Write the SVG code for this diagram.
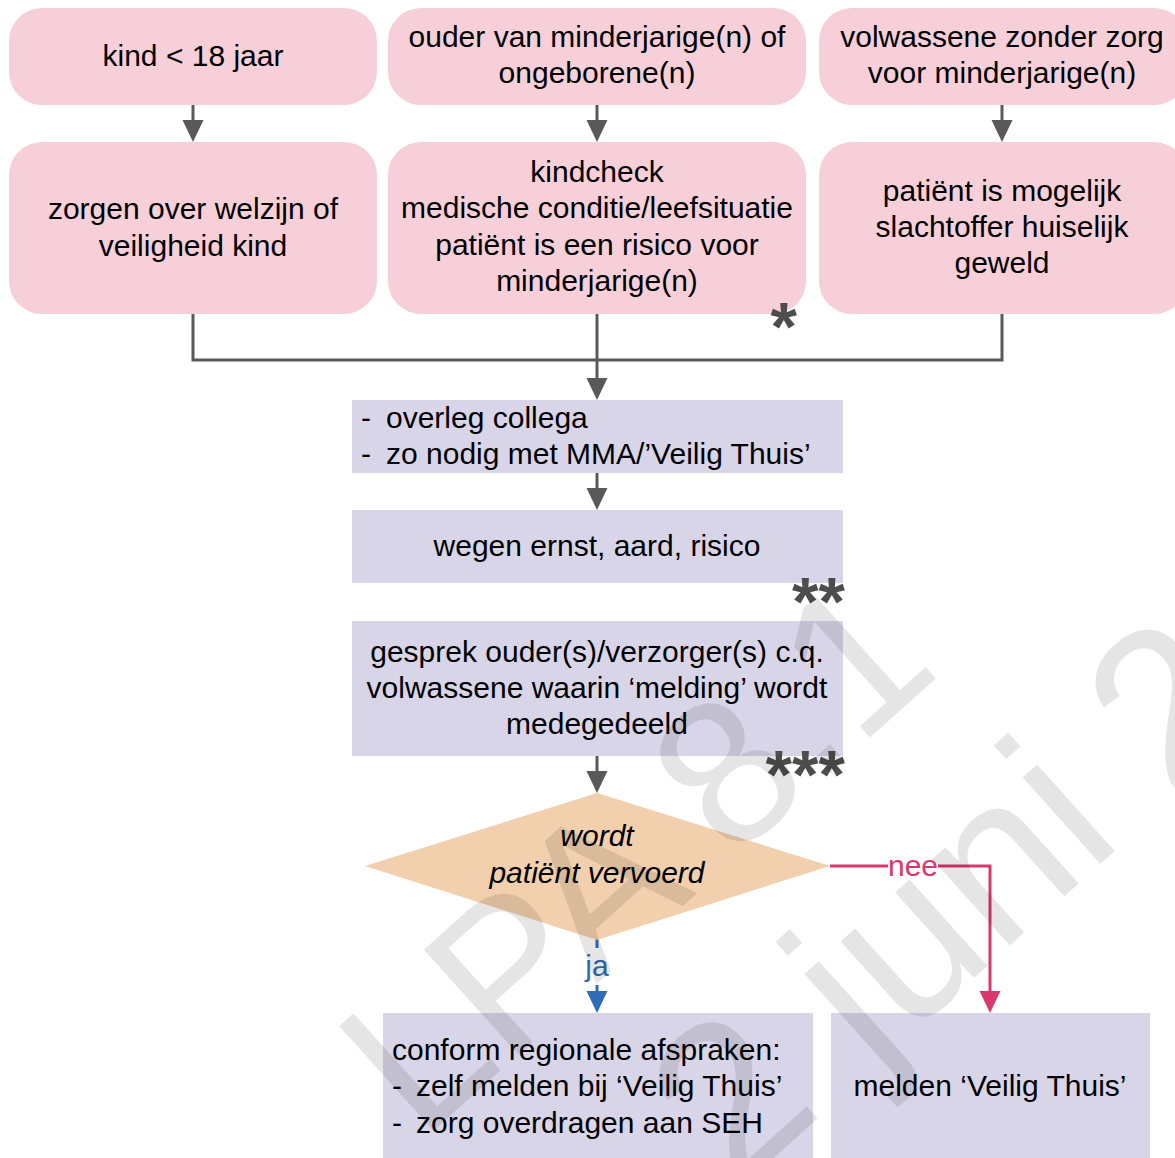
<svg xmlns="http://www.w3.org/2000/svg" width="1175" height="1158" viewBox="0 0 1175 1158">
<defs>
<style>
.t{font-family:"Liberation Sans",Arial,sans-serif;font-size:30px;fill:#000}
.c{text-anchor:middle}
.pink{fill:#f6cfd8}
.lav{fill:#d9d5e8}
.dia{fill:#f2d0ad}
.conn{stroke:#595959;stroke-width:3;fill:none}
.ast{font-family:"Liberation Sans",Arial,sans-serif;font-weight:bold;font-size:68px;fill:#4d4d4d;text-anchor:end}
.wm{font-family:"Liberation Sans",Arial,sans-serif;fill:#000;fill-opacity:0.1}
</style>
<marker id="ag" markerUnits="userSpaceOnUse" markerWidth="22" markerHeight="22" viewBox="0 0 22 22" refX="18" refY="11" orient="auto"><path d="M0,0.5 L22,11 L0,21.5 z" fill="#595959"/></marker>
<marker id="ab" markerUnits="userSpaceOnUse" markerWidth="22" markerHeight="22" viewBox="0 0 22 22" refX="18" refY="11" orient="auto"><path d="M0,0.5 L22,11 L0,21.5 z" fill="#2e6cb5"/></marker>
<marker id="ap" markerUnits="userSpaceOnUse" markerWidth="22" markerHeight="22" viewBox="0 0 22 22" refX="18" refY="11" orient="auto"><path d="M0,0.5 L22,11 L0,21.5 z" fill="#d9386c"/></marker>
</defs>
<rect width="1175" height="1158" fill="#fff"/>

<g id="connectors">
<line class="conn" x1="193" y1="105" x2="193" y2="138" marker-end="url(#ag)"/>
<line class="conn" x1="597" y1="105" x2="597" y2="138" marker-end="url(#ag)"/>
<line class="conn" x1="1002" y1="105" x2="1002" y2="138" marker-end="url(#ag)"/>
<polyline class="conn" points="193,314 193,360 1002,360 1002,314"/>
<line class="conn" x1="597" y1="314" x2="597" y2="396" marker-end="url(#ag)"/>
<line class="conn" x1="597" y1="473" x2="597" y2="506" marker-end="url(#ag)"/>
<line class="conn" x1="597" y1="756" x2="597" y2="789" marker-end="url(#ag)"/>
<line x1="597" y1="939" x2="597" y2="948" stroke="#2e6cb5" stroke-width="3"/>
<line x1="597" y1="985" x2="597" y2="1009" stroke="#2e6cb5" stroke-width="3" marker-end="url(#ab)"/>
<text class="t c" x="597" y="976" style="fill:#2e6cb5">ja</text>
<line x1="830" y1="866" x2="888" y2="866" stroke="#d9386c" stroke-width="3"/>
<polyline points="938,866 990,866 990,1009" fill="none" stroke="#d9386c" stroke-width="3" marker-end="url(#ap)"/>
<text class="t c" x="913" y="876" style="fill:#d9386c">nee</text>
</g>

<g id="n1"><rect class="pink" x="9" y="8" width="368" height="97" rx="33"/><text class="t c" x="193" y="66">kind &lt; 18 jaar</text></g>
<g id="n2"><rect class="pink" x="388" y="8" width="418" height="97" rx="33"/><text class="t c" x="597" y="47">ouder van minderjarige(n) of</text><text class="t c" x="597" y="83">ongeborene(n)</text></g>
<g id="n3"><rect class="pink" x="819" y="8" width="368" height="97" rx="33"/><text class="t c" x="1002" y="47">volwassene zonder zorg</text><text class="t c" x="1002" y="83">voor minderjarige(n)</text></g>

<g id="n4"><rect class="pink" x="9" y="142" width="368" height="172" rx="33"/><text class="t c" x="193" y="219">zorgen over welzijn of</text><text class="t c" x="193" y="256">veiligheid kind</text></g>
<g id="n5"><rect class="pink" x="388" y="142" width="418" height="172" rx="33"/><text class="t c" x="597" y="182">kindcheck</text><text class="t c" x="597" y="218">medische conditie/leefsituatie</text><text class="t c" x="597" y="255">patiënt is een risico voor</text><text class="t c" x="597" y="291">minderjarige(n)</text><text class="ast" x="797" y="350">*</text></g>
<g id="n6"><rect class="pink" x="819" y="142" width="368" height="172" rx="33"/><text class="t c" x="1002" y="201">patiënt is mogelijk</text><text class="t c" x="1002" y="237">slachtoffer huiselijk</text><text class="t c" x="1002" y="273">geweld</text></g>

<g id="n7"><rect class="lav" x="352" y="400" width="491" height="73"/><text class="t" x="361" y="428">-</text><text class="t" x="386" y="428">overleg collega</text><text class="t" x="361" y="464">-</text><text class="t" x="386" y="464">zo nodig met MMA/’Veilig Thuis’</text></g>
<g id="n8"><rect class="lav" x="352" y="510" width="491" height="73"/><text class="t c" x="597" y="556">wegen ernst, aard, risico</text><text class="ast" x="845" y="625">**</text></g>
<g id="n9"><rect class="lav" x="352" y="621" width="491" height="135"/><text class="t c" x="597" y="662">gesprek ouder(s)/verzorger(s) c.q.</text><text class="t c" x="597" y="698">volwassene waarin ‘melding’ wordt</text><text class="t c" x="597" y="734">medegedeeld</text><text class="ast" x="845" y="798">***</text></g>

<g id="n10"><polygon class="dia" points="597,793 830,866 597,940 365,866"/><text class="t c" x="597" y="846" style="font-style:italic">wordt</text><text class="t c" x="597" y="883" style="font-style:italic">patiënt vervoerd</text></g>

<g id="n11"><rect class="lav" x="383" y="1013" width="430" height="150"/><text class="t" x="392" y="1060">conform regionale afspraken:</text><text class="t" x="392" y="1096">-</text><text class="t" x="416" y="1096">zelf melden bij ‘Veilig Thuis’</text><text class="t" x="392" y="1133">-</text><text class="t" x="416" y="1133">zorg overdragen aan SEH</text></g>
<g id="n12"><rect class="lav" x="831" y="1013" width="319" height="150"/><text class="t c" x="990" y="1096">melden ‘Veilig Thuis’</text></g>

<g id="watermark">
<text class="wm" font-size="205" transform="translate(421,1142) rotate(-42)">LPA 8.1</text>
<text class="wm" font-size="220" transform="translate(735,1193) rotate(-42)">2 juni 2</text>
</g>
</svg>
